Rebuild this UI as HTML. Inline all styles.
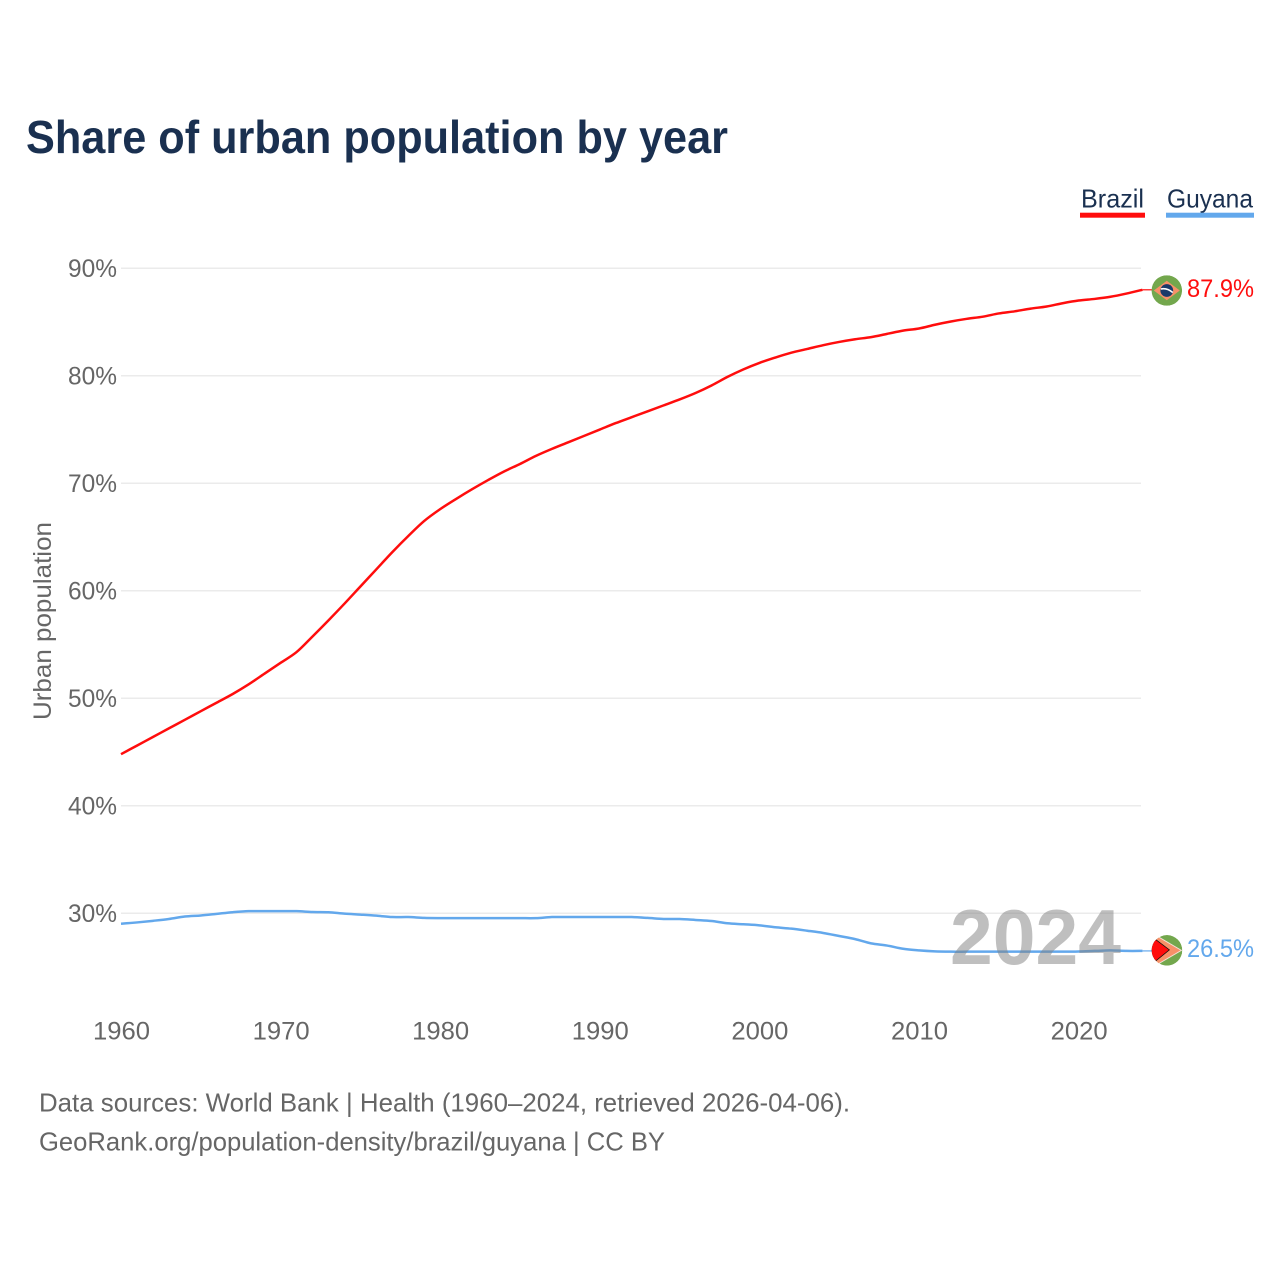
<!DOCTYPE html>
<html lang="en">
<head>
<meta charset="utf-8">
<title>Share of urban population by year</title>
<style>
html,body{margin:0;padding:0;background:#fff;}
svg{display:block;font-family:"Liberation Sans",sans-serif;}
</style>
</head>
<body>
<svg id="chart" xmlns="http://www.w3.org/2000/svg" width="1280" height="1280" viewBox="0 0 1280 1280">
  <defs>
    <clipPath id="flag-clip"><circle cx="0" cy="0" r="15.3"></circle></clipPath>
  </defs>
  <rect x="0" y="0" width="1280" height="1280" fill="#ffffff"></rect>
  <text x="26" y="153" font-size="46" font-weight="700" fill="#1a3050" textLength="702" lengthAdjust="spacingAndGlyphs">Share of urban population by year</text>

  <g>
    <text x="1081" y="207.5" font-size="26" fill="#1a3050" textLength="63" lengthAdjust="spacingAndGlyphs">Brazil</text>
    <rect x="1080" y="212.7" width="65" height="5" fill="#ff0d0d"></rect>
  </g>
  <g>
    <text x="1167" y="207.5" font-size="26" fill="#1a3050" textLength="86" lengthAdjust="spacingAndGlyphs">Guyana</text>
    <rect x="1166" y="212.7" width="88" height="5" fill="#63a8ec"></rect>
  </g>

  <g id="grid"></g>
  <g id="y-ticks"></g>
  <g id="x-ticks"></g>
  <text transform="translate(51,720) rotate(-90)" x="0" y="0" font-size="25" fill="#666666" textLength="198" lengthAdjust="spacingAndGlyphs">Urban population</text>

  <g id="series"></g>

  <text x="950" y="964" font-size="78" font-weight="700" fill="#808080" fill-opacity="0.5" textLength="171" lengthAdjust="spacingAndGlyphs">2024</text>

  <g id="flag-brazil">
    <g clip-path="url(#flag-clip)">
      <circle cx="0" cy="0" r="15.3" fill="#73a74d"></circle>
      <polygon points="-13,0 0,-9.8 13,0 0,9.8" fill="#f79068"></polygon>
      <circle cx="0" cy="0" r="6.4" fill="#1a3a6a"></circle>
      <path d="M-6,-1.5 Q0,-3 6,2" fill="none" stroke="#ffffff" stroke-width="1.6"></path>
    </g>
  </g>
  <g id="flag-guyana">
    <g clip-path="url(#flag-clip)">
      <circle cx="0" cy="0" r="15.3" fill="#73a74d"></circle>
      <polygon points="-12,-16 15.3,0 -12,16" fill="#f4e3d8"></polygon>
      <polygon points="-10.5,-14 13.5,0 -10.5,14" fill="#f79068"></polygon>
      <polygon points="-15.5,-14.5 3,-0.5 -15.5,14.5" fill="#111111"></polygon>
      <polygon points="-15.5,-13.5 1.8,-0.5 -15.5,13.5" fill="#ff0d0d"></polygon>
    </g>
  </g>
  <text id="label-brazil" x="1187" y="297" font-size="25" fill="#ff0d0d" textLength="67" lengthAdjust="spacingAndGlyphs"></text>
  <text id="label-guyana" x="1187" y="957" font-size="25" fill="#63a8ec" textLength="67" lengthAdjust="spacingAndGlyphs"></text>

  <text x="39" y="1111.5" font-size="26" fill="#666666" textLength="811" lengthAdjust="spacingAndGlyphs">Data sources: World Bank | Health (1960–2024, retrieved 2026-04-06).</text>
  <text x="39" y="1150.5" font-size="26" fill="#666666" textLength="626" lengthAdjust="spacingAndGlyphs">GeoRank.org/population-density/brazil/guyana | CC BY</text>
</svg>
<script>
const startYear = 1960;
const brazilValues = [44.8,45.6,46.4,47.2,48.0,48.8,49.6,50.4,51.3,52.3,53.3,54.3,55.75,57.25,58.8,60.4,62.0,63.6,65.1,66.5,67.6,68.55,69.45,70.3,71.1,71.8,72.55,73.2,73.8,74.4,75.0,75.6,76.15,76.7,77.25,77.8,78.4,79.1,79.9,80.6,81.2,81.7,82.15,82.5,82.85,83.15,83.4,83.6,83.9,84.2,84.4,84.75,85.05,85.3,85.5,85.8,86.0,86.25,86.45,86.75,87.0,87.15,87.35,87.65,88.0];
const guyanaValues = [29.03,29.15,29.3,29.47,29.7,29.8,29.95,30.1,30.2,30.2,30.2,30.2,30.12,30.1,29.97,29.88,29.78,29.65,29.65,29.57,29.55,29.55,29.55,29.55,29.55,29.55,29.55,29.65,29.65,29.65,29.65,29.65,29.65,29.57,29.47,29.47,29.38,29.28,29.07,28.98,28.88,28.7,28.57,28.38,28.17,27.89,27.6,27.2,27.0,26.7,26.55,26.46,26.43,26.43,26.43,26.43,26.43,26.43,26.43,26.43,26.45,26.5,26.55,26.5,26.5];
const yTickValues = [30,40,50,60,70,80,90];
const xTickValues = [1960,1970,1980,1990,2000,2010,2020];
const endLabelBrazil = "87.9%";
const endLabelGuyana = "26.5%";

const NS = "http://www.w3.org/2000/svg";
function xScale(year){ return 121 + (year - 1960) * 15.96; }
function yScale(v){ return 913.3 - (v - 30) * 10.75; }
function make(tag, attrs, parent){
  const el = document.createElementNS(NS, tag);
  for (const k in attrs) el.setAttribute(k, attrs[k]);
  parent.appendChild(el);
  return el;
}
function smoothPath(pts){
  let d = "M" + pts[0][0].toFixed(2) + "," + pts[0][1].toFixed(2);
  for (let i = 0; i < pts.length - 1; i++){
    const p0 = pts[Math.max(i-1,0)], p1 = pts[i], p2 = pts[i+1], p3 = pts[Math.min(i+2,pts.length-1)];
    const c1x = p1[0] + (p2[0]-p0[0])/6, c1y = p1[1] + (p2[1]-p0[1])/6;
    const c2x = p2[0] - (p3[0]-p1[0])/6, c2y = p2[1] - (p3[1]-p1[1])/6;
    d += "C" + c1x.toFixed(2) + "," + c1y.toFixed(2) + " " + c2x.toFixed(2) + "," + c2y.toFixed(2) + " " + p2[0].toFixed(2) + "," + p2[1].toFixed(2);
  }
  return d;
}
const gridG = document.getElementById("grid");
const yG = document.getElementById("y-ticks");
const xG = document.getElementById("x-ticks");
const seriesG = document.getElementById("series");

yTickValues.forEach(function(v){
  const line = make("line", {x1:121, x2:1141, y1:yScale(v), y2:yScale(v), stroke:"#ebebeb", "stroke-width":1.5}, gridG);
  
  
  const t = make("text", {x:117, y:yScale(v)+8.5, "font-size":25, fill:"#666666", "text-anchor":"end", textLength:49, lengthAdjust:"spacingAndGlyphs"}, yG);
  
  
  t.textContent = v + "%";
});
xTickValues.forEach(function(y){
  const t = make("text", {x:xScale(y)-28, y:1039.5, "font-size":25, fill:"#666666", textLength:57, lengthAdjust:"spacingAndGlyphs"}, xG);
  
  
  t.textContent = y;
});
function drawSeries(values, color, name){
  const pts = values.map(function(v,i){ return [xScale(startYear+i), yScale(v)]; });
  const p = make("path", {d:smoothPath(pts), fill:"none", stroke:color, "stroke-width":2.5, "stroke-linejoin":"round"}, seriesG);
  
  
  const lastY = yScale(values[values.length-1]);
  const lastX = xScale(startYear+values.length-1);
  const c = make("line", {x1:lastX, x2:1152, y1:lastY, y2:lastY, stroke:color, "stroke-width":1.2}, seriesG);
  
  
  return lastY;
}
const by = drawSeries(guyanaValues, "#63a8ec", "guyana");
const ry = drawSeries(brazilValues, "#ff0d0d", "brazil");
document.getElementById("flag-brazil").setAttribute("transform", "translate(1166.8," + (ry+0.7) + ")");
document.getElementById("flag-guyana").setAttribute("transform", "translate(1167," + (by-0.6) + ")");
const lb = document.getElementById("label-brazil");
lb.textContent = endLabelBrazil;
lb.setAttribute("y", ry + 7);
const lg = document.getElementById("label-guyana");
lg.textContent = endLabelGuyana;
lg.setAttribute("y", by + 6);
</script>
</body>
</html>
